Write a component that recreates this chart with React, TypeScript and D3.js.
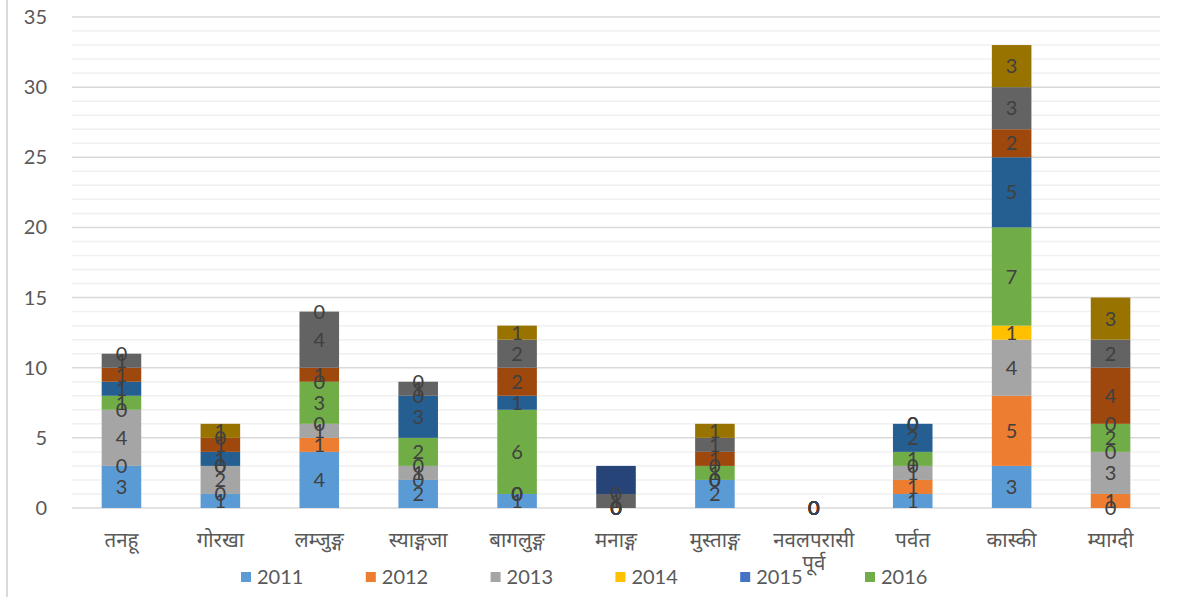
import React, { useEffect, useRef } from 'react'
import * as d3 from 'd3'

// district names (x axis)
const categories = ['तनहू', 'गोरखा', 'लम्जुङ्ग', 'स्याङ्गजा', 'बागलुङ्ग', 'मनाङ्ग', 'मुस्ताङ्ग', 'नवलपरासी पूर्व', 'पर्वत', 'कास्की', 'म्याग्दी']

const years = ['2011', '2012', '2013', '2014', '2015', '2016', '2017', '2018', '2019', '2020', '2021']

// values per year, one per district (null = empty cell, no label)
const v2011 = [3, 1, 4, 2, 1, 0, 2, 0, 1, 3, 0]
const v2012 = [0, 0, 1, 0, 0, 0, 0, 0, 1, 5, 1]
const v2013 = [4, 2, 1, 1, 0, 0, 0, 0, 1, 4, 3]
const v2014 = [0, 0, 0, 0, 0, 0, 0, 0, 0, 1, 0]
const v2015 = [null, null, null, null, null, null, null, null, null, null, null]
const v2016 = [1, 0, 3, 2, 6, 0, 1, 0, 1, 7, 2]
const v2017 = [1, 1, 0, 3, 1, 0, 0, 0, 2, 5, 0]
const v2018 = [1, 1, 1, 0, 2, 0, 1, 0, 0, 2, 4]
const v2019 = [1, 0, 4, 1, 2, 1, 1, 0, 0, 3, 2]
const v2020 = [0, 1, 0, 0, 1, 0, 1, 0, 0, 3, 3]
const v2021 = [null, null, null, null, null, 2, null, null, null, null, null]

const seriesValues = [v2011, v2012, v2013, v2014, v2015, v2016, v2017, v2018, v2019, v2020, v2021]
const colors = ['#5B9BD5', '#ED7D31', '#A5A5A5', '#FFC000', '#4472C4', '#70AD47', '#255E91', '#9E480E', '#636363', '#997300', '#264478']
const labelled = [true, true, true, true, true, true, true, true, true, true, false]
const legendYears = ['2011', '2012', '2013', '2014', '2015', '2016']
const yTicks = [0, 5, 10, 15, 20, 25, 30, 35]

const W = 1186
const H = 597

export default function App() {
  const ref = useRef<SVGSVGElement>(null)

  useEffect(() => {
    const svg = d3.select(ref.current)
    svg.selectAll('*').remove()

    const font = 'Lato, Calibri, "Noto Sans", sans-serif'
    const left = 72, right = 1160, top = 17, bottom = 508

    // chart border on the left
    svg.append('line')
      .attr('x1', 7).attr('x2', 7).attr('y1', 0).attr('y2', H)
      .attr('stroke', '#d9d9d9').attr('stroke-width', 2)

    const x = d3.scaleBand<string>()
      .domain(categories)
      .range([left, right])
      .paddingInner(0.6)
      .paddingOuter(0.3)

    const y = d3.scaleLinear().domain([0, 35]).range([bottom, top])

    // minor gridlines every 1, major every 5
    const g = svg.append('g')
    g.selectAll('line.minor')
      .data(d3.range(0, 36).filter(d => d % 5 !== 0))
      .enter().append('line')
      .attr('x1', left).attr('x2', right)
      .attr('y1', d => y(d)).attr('y2', d => y(d))
      .attr('stroke', '#f0f0f0').attr('stroke-width', 1.5)
    g.selectAll('line.major')
      .data(yTicks)
      .enter().append('line')
      .attr('x1', left).attr('x2', right)
      .attr('y1', d => y(d)).attr('y2', d => y(d))
      .attr('stroke', '#d9d9d9').attr('stroke-width', 1.5)

    // y labels
    svg.append('g').selectAll('text')
      .data(yTicks)
      .enter().append('text')
      .attr('x', 47).attr('y', d => y(d))
      .attr('dy', '0.35em')
      .attr('text-anchor', 'end')
      .attr('font-family', font).attr('font-size', 20)
      .attr('fill', '#595959')
      .text(d => d)

    // stacked data
    const rows = categories.map((c, i) => {
      const r: any = { cat: c }
      years.forEach((yr, s) => { r[yr] = seriesValues[s][i] ?? 0 })
      return r
    })
    const stacked = d3.stack<any>().keys(years)(rows)

    const bars = svg.append('g')
    stacked.forEach((layer, s) => {
      bars.append('g')
        .attr('fill', colors[s])
        .selectAll('rect')
        .data(layer)
        .enter().append('rect')
        .attr('x', d => x(d.data.cat)!)
        .attr('width', x.bandwidth())
        .attr('y', d => y(d[1]))
        .attr('height', d => y(d[0]) - y(d[1]))
    })

    // data labels
    const labels = svg.append('g')
    stacked.forEach((layer, s) => {
      if (!labelled[s]) return
      labels.selectAll(null)
        .data(layer.filter((d, i) => seriesValues[s][i] !== null))
        .enter().append('text')
        .attr('x', d => x(d.data.cat)! + x.bandwidth() / 2)
        .attr('y', d => y((d[0] + d[1]) / 2))
        .attr('dy', '0.35em')
        .attr('text-anchor', 'middle')
        .attr('font-family', font).attr('font-size', 20)
        .attr('fill', '#404040')
        .text(d => d[1] - d[0])
    })

    // category labels (wrap on space)
    const catG = svg.append('g')
    categories.forEach(c => {
      const t = catG.append('text')
        .attr('x', x(c)! + x.bandwidth() / 2)
        .attr('y', 547)
        .attr('text-anchor', 'middle')
        .attr('font-family', '"Noto Sans Devanagari", Mangal, Lato, sans-serif')
        .attr('font-size', 20.5)
        .attr('fill', '#595959')
      c.split(' ').forEach((w, k) => {
        t.append('tspan')
          .attr('x', x(c)! + x.bandwidth() / 2)
          .attr('dy', k === 0 ? 0 : 23)
          .text(w)
      })
    })

    // legend (only first row visible)
    const leg = svg.append('g')
    legendYears.forEach((yr, i) => {
      const lx = 241 + i * 124.8
      leg.append('rect')
        .attr('x', lx).attr('y', 572)
        .attr('width', 10).attr('height', 10)
        .attr('fill', colors[years.indexOf(yr)])
      leg.append('text')
        .attr('x', lx + 16).attr('y', 577)
        .attr('dy', '0.35em')
        .attr('font-family', font).attr('font-size', 20)
        .attr('fill', '#595959')
        .text(yr)
    })
  }, [])

  return (
    <svg
      ref={ref}
      width={W}
      height={H}
      style={{ position: 'absolute', left: 0, top: 0, background: '#fff' }}
    />
  )
}
